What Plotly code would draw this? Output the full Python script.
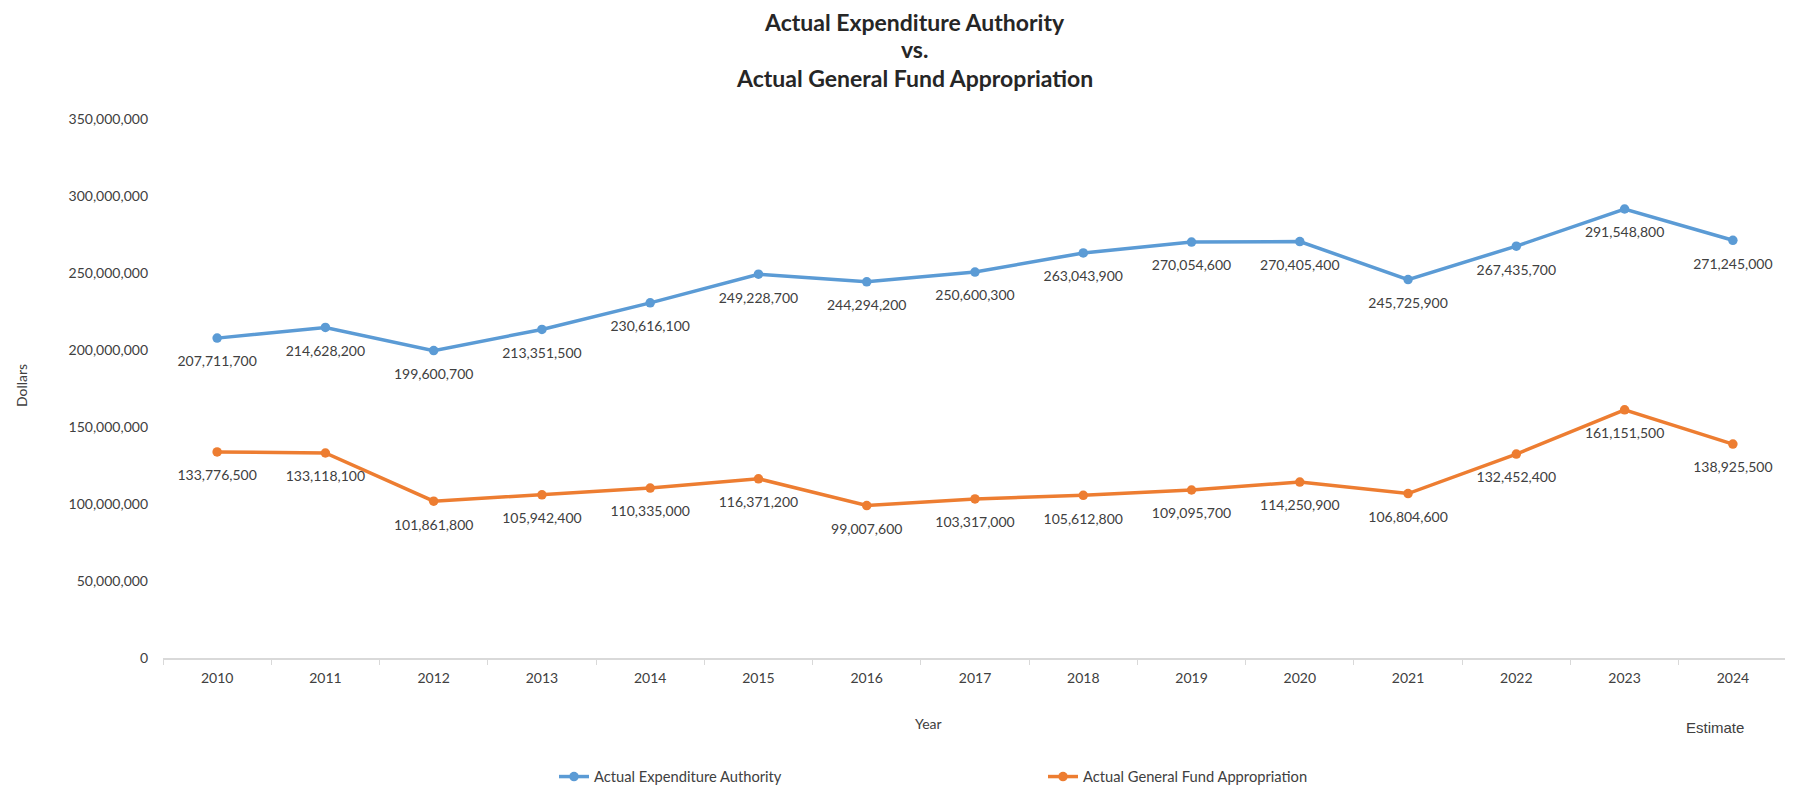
import plotly.graph_objects as go

years = ["2010", "2011", "2012", "2013", "2014", "2015", "2016", "2017",
         "2018", "2019", "2020", "2021", "2022", "2023", "2024"]
expenditure_authority = [207711700, 214628200, 199600700, 213351500, 230616100,
                         249228700, 244294200, 250600300, 263043900, 270054600,
                         270405400, 245725900, 267435700, 291548800, 271245000]
general_fund = [133776500, 133118100, 101861800, 105942400, 110335000,
                116371200, 99007600, 103317000, 105612800, 109095700,
                114250900, 106804600, 132452400, 161151500, 138925500]
title_lines = ["Actual Expenditure Authority", "vs.", "Actual General Fund Appropriation"]

FONT = "Lato, Open Sans, sans-serif"
TXT = "#404040"

# figure placed at (8,8) by the page's default body margin
W, H = 1785, 780
L, R, T, B = 155, 6, 111, 130
PW, PH = W - L - R, H - T - B

fig = go.Figure()
series = [("Actual Expenditure Authority", expenditure_authority, "#5B9BD5"),
          ("Actual General Fund Appropriation", general_fund, "#ED7D31")]
for name, vals, col in series:
    fig.add_trace(go.Scatter(
        x=years, y=vals, name=name, mode="lines+markers",
        line=dict(color=col, width=3.5),
        marker=dict(color=col, size=9.5),
        hoverinfo="x+y+name",
    ))
for name, vals, col in series:
    # data labels, offset below the points by a transparent marker
    fig.add_trace(go.Scatter(
        x=years, y=vals, mode="markers+text", showlegend=False, hoverinfo="skip",
        marker=dict(size=27, color="rgba(0,0,0,0)"),
        text=[f"{v:,}" for v in vals],
        textposition="bottom center",
        textfont=dict(family=FONT, size=14, color=TXT),
        cliponaxis=False,
    ))

title_y = [14, 41, 69.5]
annotations = [
    dict(text=f"<b>{t}</b>", xref="paper", yref="paper", x=(906 - L) / PW,
         y=1 + (T - yy) / PH, xanchor="center", yanchor="middle", showarrow=False,
         font=dict(family=FONT, size=23, color="#262626"))
    for t, yy in zip(title_lines, title_y)
]
annotations += [
    dict(text="Year", xref="paper", yref="paper", x=(920 - L) / PW, y=-65 / PH,
         xanchor="center", yanchor="middle", showarrow=False,
         font=dict(family=FONT, size=14, color=TXT)),
    dict(text="Estimate", xref="x", yref="paper", x=14, xshift=-18, y=-69 / PH,
         xanchor="center", yanchor="middle", showarrow=False,
         font=dict(family="Liberation Sans, Arial, sans-serif", size=15, color=TXT)),
    dict(text="Dollars", xref="paper", yref="paper", x=(13 - L) / PW, y=(H - B - 378) / PH,
         xanchor="center", yanchor="middle", textangle=-90, showarrow=False,
         font=dict(family=FONT, size=14, color=TXT)),
]

fig.update_layout(
    width=W, height=H,
    paper_bgcolor="white", plot_bgcolor="white",
    margin=dict(l=L, r=R, t=T, b=B, autoexpand=False),
    font=dict(family=FONT, color=TXT),
    showlegend=True,
    legend=dict(orientation="h", x=391 / PW, xanchor="left",
                y=-119 / PH, yanchor="middle", entrywidth=444,
                font=dict(family=FONT, size=14.7, color=TXT)),
    xaxis=dict(type="category", range=[-0.5, 14.5], showgrid=False,
               showline=True, linecolor="#D9D9D9", linewidth=1.5,
               ticks="outside", tickson="boundaries", ticklen=5, tickcolor="#D9D9D9",
               ticklabelstandoff=6,
               tickfont=dict(family=FONT, size=14, color=TXT)),
    yaxis=dict(range=[0, 350000000], dtick=50000000, tickformat=",",
               showgrid=False, showline=False, zeroline=False, ticks="",
               ticklabelstandoff=14,
               tickfont=dict(family=FONT, size=14, color=TXT)),
    annotations=annotations,
)

fig.write_html("out.html")
